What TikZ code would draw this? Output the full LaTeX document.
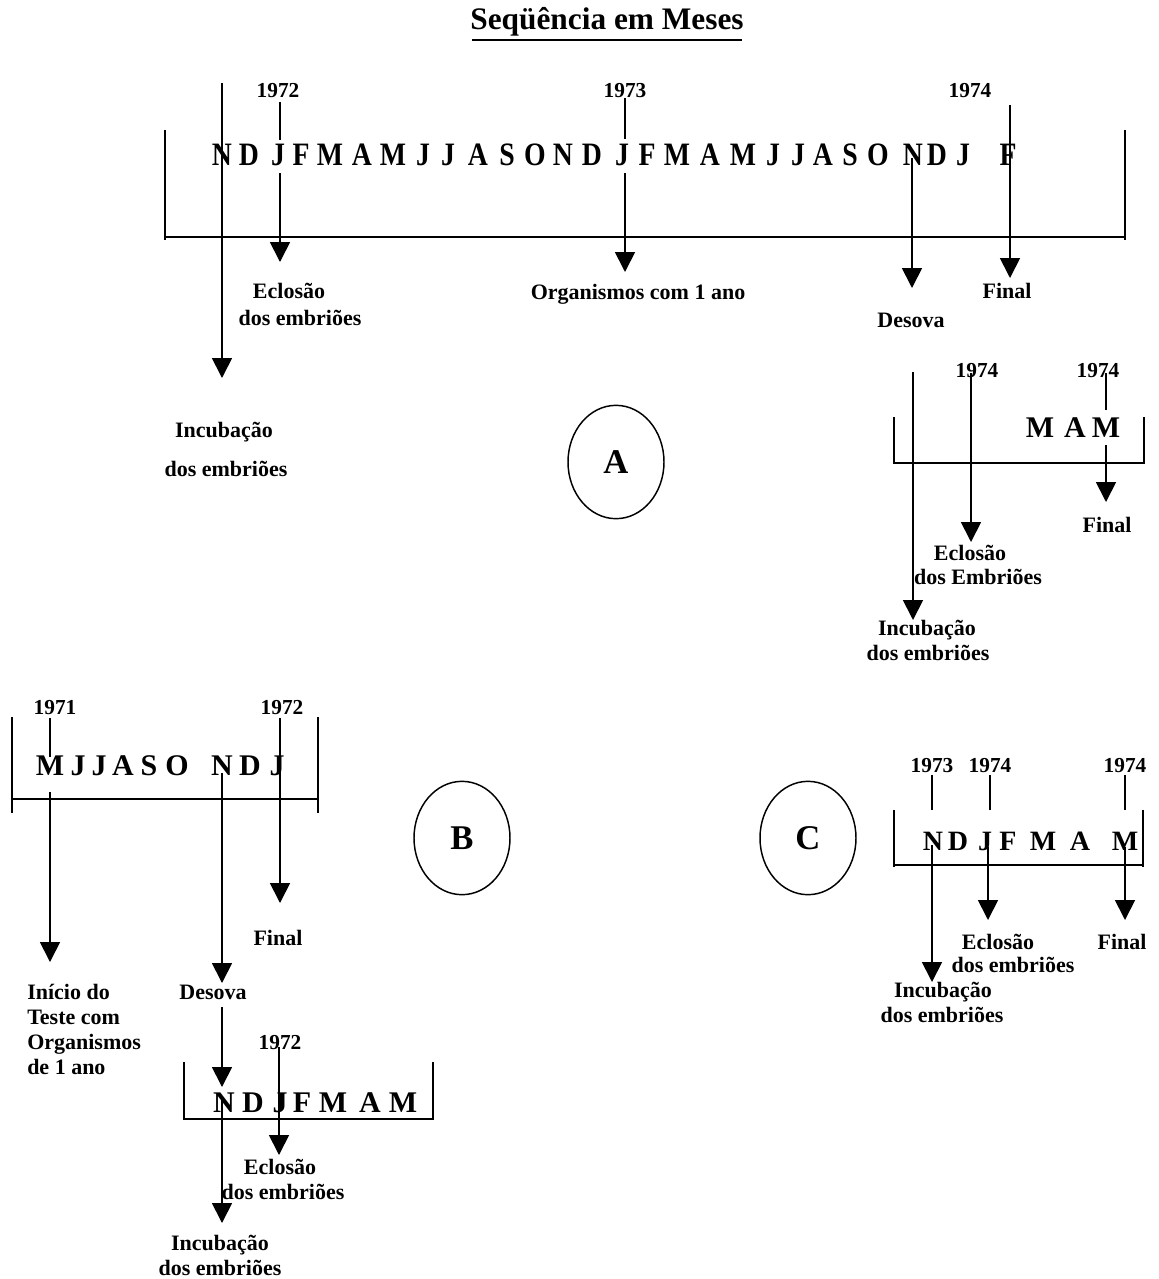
\documentclass[tikz,border=0pt]{standalone}
\usepackage{fontspec}
\setmainfont{Liberation Serif}
\usetikzlibrary{arrows.meta,shapes.geometric}
\begin{document}
\begin{tikzpicture}[x=0.75pt,y=-0.75pt,
  ln/.style={line width=1.1pt},
  arr/.style={line width=1.3pt,-{Triangle[width=15pt,length=15pt]}},
  lbl/.style={font=\bfseries\fontsize{16.5}{18}\selectfont, inner sep=0pt, text height=11pt, text depth=0pt},
  yr/.style={font=\bfseries\fontsize{16}{18}\selectfont, inner sep=0pt, text height=10.6pt, text depth=0pt},
  mon/.style={font=\bfseries\fontsize{22.5}{26}\selectfont, inner sep=0pt, text height=15pt, text depth=0pt},
  topmon/.style={font=\bfseries\fontsize{24.5}{28}\selectfont, inner sep=0pt, text height=16.2pt, text depth=0pt, xscale=0.85},
  circ/.style={draw, ellipse, line width=1.1pt, minimum width=72pt, minimum height=85pt, inner sep=0pt, font=\bfseries\fontsize{26}{30}\selectfont}
]
\useasboundingbox (0,0) rectangle (1159,1279);

% title
\node[font=\bfseries\fontsize{23.5}{28}\selectfont, inner sep=0pt, text height=16pt, text depth=0pt] (title) at (607,19) {Seqüência em Meses};
\coordinate (ulA) at (472,40);
\coordinate (ulB) at (742,40);
\draw[line width=2.2pt] (ulA) -- (ulB);

% ================= top panel =================
\foreach \m/\x [count=\i] in {N/222,D/249,J/278,F/301,M/330,A/362,M/393,J/423,J/448,A/478,S/507,O/535,N/563,D/592,J/622,F/647,M/677,A/710,M/743,J/773,J/798,A/823,S/850,O/878,N/913,D/937,J/963,F/1008}
  \node[topmon] (t\i) at (\x,155) {\m};

\coordinate (tb1) at (165,130);
\coordinate (tb2) at (165,240);
\coordinate (tb3) at (1125,130);
\coordinate (tb4) at (1125,240);
\coordinate (th1) at (165,237);
\coordinate (th2) at (1125,237);
\draw[ln] (tb1) -- (tb2);
\draw[ln] (tb3) -- (tb4);
\draw[line width=1.4pt] (th1) -- (th2);

\node[yr] (y72) at (278,90) {1972};
\node[yr] (y73) at (625,90) {1973};
\node[yr] (y74) at (970,90) {1974};

% incubação (through N)
\coordinate (inc0) at (222,83);
\coordinate (inc1) at (222,378);
\draw[arr] (inc0) -- (inc1);
% J 1972
\coordinate (j72a) at (280,102);
\coordinate (j72b) at (280,140);
\coordinate (j72c) at (280,173);
\coordinate (j72d) at (280,262);
\draw[ln] (j72a) -- (j72b);
\draw[arr] (j72c) -- (j72d);
% J 1973
\coordinate (j73a) at (625,98);
\coordinate (j73b) at (625,139);
\coordinate (j73c) at (625,173);
\coordinate (j73d) at (625,272);
\draw[ln] (j73a) -- (j73b);
\draw[arr] (j73c) -- (j73d);
% desova
\coordinate (des0) at (912,158);
\coordinate (des1) at (912,288);
\draw[arr] (des0) -- (des1);
% final
\coordinate (fin0) at (1010,105);
\coordinate (fin1) at (1010,278);
\draw[arr] (fin0) -- (fin1);

\node[lbl] (lEcl) at (289,291) {Eclosão};
\node[lbl] (lEcl2) at (300,318) {dos embriões};
\node[lbl] (lOrg) at (638,292) {Organismos com 1 ano};
\node[lbl] (lDes) at (911,320) {Desova};
\node[lbl] (lFin) at (1007,291) {Final};
\node[lbl] (lInc) at (224,430) {Incubação};
\node[lbl] (lInc2) at (226,469) {dos embriões};

\node[circ] (cA) at (616,462) {A};

% ================= right small panel (A) =================
\node[yr] (ra1) at (977,370) {1974};
\node[yr] (ra2) at (1098,370) {1974};
\node[mon] (raM1) at (1040,427) {M};
\node[mon] (raA) at (1075,427) {A};
\node[mon] (raM2) at (1106,427) {M};
\coordinate (rb1) at (894,417);
\coordinate (rb2) at (894,463);
\coordinate (rb3) at (1144,463);
\coordinate (rb4) at (1144,417);
\draw[ln] (rb1) -- (rb2) -- (rb3) -- (rb4);
\coordinate (rinc0) at (913,372);
\coordinate (rinc1) at (913,620);
\draw[arr] (rinc0) -- (rinc1);
\coordinate (recl0) at (971,373);
\coordinate (recl1) at (971,542);
\draw[arr] (recl0) -- (recl1);
\coordinate (rfa) at (1106,373);
\coordinate (rfb) at (1106,410);
\coordinate (rfc) at (1106,445);
\coordinate (rfd) at (1106,502);
\draw[ln] (rfa) -- (rfb);
\draw[arr] (rfc) -- (rfd);
\node[lbl] (rlFin) at (1107,525) {Final};
\node[lbl] (rlEcl) at (970,553) {Eclosão};
\node[lbl] (rlEcl2) at (978,577) {dos Embriões};
\node[lbl] (rlInc) at (927,628) {Incubação};
\node[lbl] (rlInc2) at (928,653) {dos embriões};

% ================= panel B =================
\node[yr] (b71) at (55,707) {1971};
\node[yr] (b72) at (282,707) {1972};
\foreach \m/\x [count=\i] in {M/50,J/78,J/99,A/123,S/149,O/177,N/222,D/250,J/277}
  \node[mon] (b\i) at (\x,765) {\m};
\coordinate (bb1) at (12,717);
\coordinate (bb2) at (12,813);
\coordinate (bb3) at (318,717);
\coordinate (bb4) at (318,813);
\coordinate (bh1) at (12,799);
\coordinate (bh2) at (318,799);
\draw[ln] (bb1) -- (bb2);
\draw[ln] (bb3) -- (bb4);
\draw[ln] (bh1) -- (bh2);
\coordinate (bma) at (50,718);
\coordinate (bmb) at (50,757);
\coordinate (bmc) at (50,792);
\coordinate (bmd) at (50,962);
\draw[ln] (bma) -- (bmb);
\draw[arr] (bmc) -- (bmd);
\coordinate (bdes0) at (222,773);
\coordinate (bdes1) at (222,983);
\draw[arr] (bdes0) -- (bdes1);
\coordinate (bfin0) at (280,718);
\coordinate (bfin1) at (280,903);
\draw[arr] (bfin0) -- (bfin1);
\node[lbl] (blFin) at (278,938) {Final};
\node[lbl] (blDes) at (213,992) {Desova};
\node[lbl, anchor=west] (blIni1) at (27,992) {Início do};
\node[lbl, anchor=west] (blIni2) at (27,1017) {Teste com};
\node[lbl, anchor=west] (blIni3) at (27,1042) {Organismos};
\node[lbl, anchor=west] (blIni4) at (27,1067) {de 1 ano};
\coordinate (bdes2) at (222,1007);
\coordinate (bdes3) at (222,1087);
\draw[arr] (bdes2) -- (bdes3);

\node[circ] (cB) at (462,838) {B};

% bottom mini panel
\node[yr] (bb72) at (280,1042) {1972};
\foreach \m/\x [count=\i] in {N/224,D/253,J/280,F/302,M/333,A/370,M/403}
  \node[mon] (bm\i) at (\x,1102) {\m};
\coordinate (mb1) at (184,1062);
\coordinate (mb2) at (184,1119);
\coordinate (mb3) at (433,1119);
\coordinate (mb4) at (433,1062);
\draw[ln] (mb1) -- (mb2) -- (mb3) -- (mb4);
\coordinate (mj0) at (279,1047);
\coordinate (mj1) at (279,1155);
\draw[arr] (mj0) -- (mj1);
\coordinate (minc0) at (222,1100);
\coordinate (minc1) at (222,1223);
\draw[arr] (minc0) -- (minc1);
\node[lbl] (mlEcl) at (280,1167) {Eclosão};
\node[lbl] (mlEcl2) at (283,1192) {dos embriões};
\node[lbl] (mlInc) at (220,1243) {Incubação};
\node[lbl] (mlInc2) at (220,1268) {dos embriões};

% ================= panel C =================
\node[circ] (cC) at (808,838) {C};
\node[yr] (c73) at (932,765) {1973};
\node[yr] (c74a) at (990,765) {1974};
\node[yr] (c74b) at (1125,765) {1974};
\foreach \m/\x [count=\i] in {N/933,D/958,J/985,F/1008,M/1043,A/1080,M/1125}
  \node[mon, font=\bfseries\fontsize{21}{24}\selectfont] (cm\i) at (\x,840) {\m};
\foreach \x [count=\i] in {932,990,1125} {
  \coordinate (ct\i a) at (\x,775);
  \coordinate (ct\i b) at (\x,810);
  \draw[ln] (ct\i a) -- (ct\i b);
}
\coordinate (cb1) at (894,810);
\coordinate (cb2) at (894,867);
\coordinate (cb3) at (1143,810);
\coordinate (cb4) at (1143,867);
\coordinate (ch1) at (894,865);
\coordinate (ch2) at (1143,865);
\draw[ln] (cb1) -- (cb2);
\draw[ln] (cb3) -- (cb4);
\draw[ln] (ch1) -- (ch2);
\coordinate (cinc0) at (932,845);
\coordinate (cinc1) at (932,982);
\draw[arr] (cinc0) -- (cinc1);
\coordinate (cecl0) at (988,847);
\coordinate (cecl1) at (988,920);
\draw[arr] (cecl0) -- (cecl1);
\coordinate (cfin0) at (1125,847);
\coordinate (cfin1) at (1125,920);
\draw[arr] (cfin0) -- (cfin1);
\node[lbl] (clFin) at (1122,942) {Final};
\node[lbl] (clEcl) at (998,942) {Eclosão};
\node[lbl] (clEcl2) at (1013,965) {dos embriões};
\node[lbl] (clInc) at (943,990) {Incubação};
\node[lbl] (clInc2) at (942,1015) {dos embriões};
\end{tikzpicture}
\end{document}
